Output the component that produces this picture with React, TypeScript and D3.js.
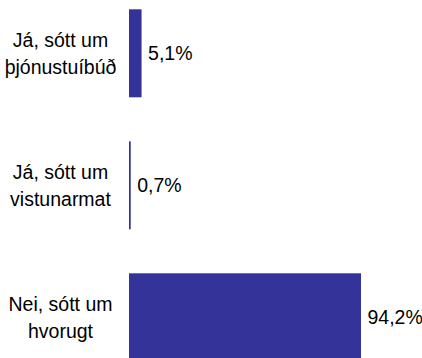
import * as d3 from 'd3';

const categories = [
  ['Já, sótt um', 'þjónustuíbúð'],
  ['Já, sótt um', 'vistunarmat'],
  ['Nei, sótt um', 'hvorugt'],
];
const values = [5.1, 0.7, 94.2];
const valueLabels = ['5,1%', '0,7%', '94,2%'];

const width = 422;
const height = 358;
const barColor = '#333399';
const font = '"Liberation Sans", Arial, sans-serif';

export default function App() {
  const keys = categories.map((_, i) => String(i));

  const y = d3.scaleBand<string>()
    .domain(keys)
    .range([9.3, 361.3])
    .paddingInner(1 / 3)
    .paddingOuter(0);

  const x = d3.scaleLinear()
    .domain([0, d3.max(values) as number])
    .range([129, 361]);

  const labelX = 60.5;

  return (
    <div style={{ position: 'fixed', left: 0, top: 0 }}>
      <svg width={width} height={height} style={{ display: 'block', background: '#fff' }}>
        {values.map((v, i) => {
          const y0 = y(keys[i]) as number;
          const bw = y.bandwidth();
          const cy = y0 + bw / 2;
          return (
            <g key={i}>
              <rect
                x={x(0)}
                y={y0}
                width={x(v) - x(0)}
                height={bw}
                fill={barColor}
              />
              <text
                x={x(v) + 6.5}
                y={cy + 7}
                fontFamily={font}
                fontSize={19.5}
                fill="#000"
              >
                {valueLabels[i]}
              </text>
              <text
                x={labelX}
                textAnchor="middle"
                fontFamily={font}
                fontSize={19.5}
                fill="#000"
              >
                <tspan x={labelX} y={cy - 6}>{categories[i][0]}</tspan>
                <tspan x={labelX} y={cy + 21}>{categories[i][1]}</tspan>
              </text>
            </g>
          );
        })}
      </svg>
    </div>
  );
}
